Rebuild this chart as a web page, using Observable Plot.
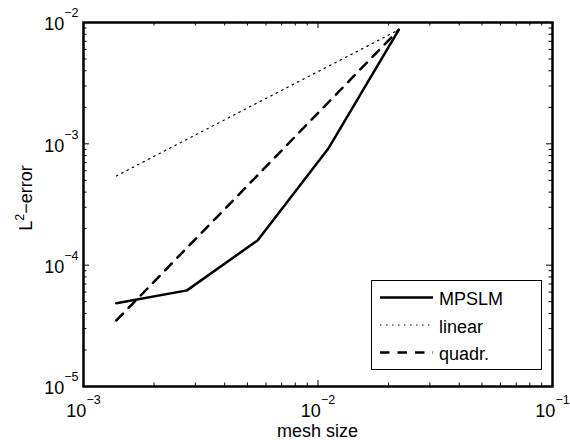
<!DOCTYPE html>
<html><head><meta charset="utf-8">
<script src="https://cdn.jsdelivr.net/npm/d3@7"></script>
<script src="https://cdn.jsdelivr.net/npm/@observablehq/plot@0.6"></script>
<style>
html,body{margin:0;padding:0;background:#fff;}
#chart svg{display:block;}
</style></head><body><div id="chart"></div>
<script>
// ---- data ----
const meshSize = [0.001381, 0.002762, 0.005524, 0.011049, 0.022097];
const mpslm    = [4.85e-5, 6.2e-5, 1.6e-4, 9.1e-4, 8.7e-3];
const linear   = [5.44e-4, 1.09e-3, 2.18e-3, 4.35e-3, 8.7e-3];
const quadr    = [3.5e-5, 1.39e-4, 5.5e-4, 2.19e-3, 8.7e-3];
const seriesNames = ["MPSLM", "linear", "quadr."];
const xTickValues = [1e-3, 1e-2, 1e-1];
const xTickLabels = ["10^−3", "10^−2", "10^−1"];
const yTickValues = [1e-5, 1e-4, 1e-3, 1e-2];
const yTickLabels = ["10^−5", "10^−4", "10^−3", "10^−2"];
const xMinor = [2e-3,3e-3,4e-3,5e-3,6e-3,7e-3,8e-3,9e-3,2e-2,3e-2,4e-2,5e-2,6e-2,7e-2,8e-2,9e-2];
const yMinor = [2e-5,3e-5,4e-5,5e-5,6e-5,7e-5,8e-5,9e-5,2e-4,3e-4,4e-4,5e-4,6e-4,7e-4,8e-4,9e-4,2e-3,3e-3,4e-3,5e-3,6e-3,7e-3,8e-3,9e-3];
const xLabel = "mesh size";

const toRows = vals => meshSize.map((h, i) => ({h, v: vals[i]}));
const mpslmData = toRows(mpslm), linearData = toRows(linear), quadrData = toRows(quadr);

const W = 570, H = 440, mL = 83, mR = 18, mT = 22, mB = 54;
const pw = W - mL - mR, ph = H - mT - mB;
const FONT = "'Liberation Sans', Arial, Helvetica, sans-serif";
const fmtX = d => xTickLabels[xTickValues.indexOf(d)];
const fmtY = d => yTickLabels[yTickValues.indexOf(d)];
const minorLen = 3.5, majorLen = 6;

const plot = Plot.plot({
  width: W, height: H,
  marginLeft: mL, marginRight: mR, marginTop: mT, marginBottom: mB,
  style: {fontFamily: FONT, background: "white", color: "black", overflow: "visible"},
  x: {type: "log", domain: [1e-3, 1e-1]},
  y: {type: "log", domain: [1e-5, 1e-2]},
  marks: [
    // inward ticks, all four sides
    Plot.ruleX(xMinor, {x: d => d, insetTop: ph - minorLen, stroke: "black", strokeWidth: 1}),
    Plot.ruleX(xMinor, {x: d => d, insetBottom: ph - minorLen, stroke: "black", strokeWidth: 1}),
    Plot.ruleX(xTickValues, {x: d => d, insetTop: ph - majorLen, stroke: "black", strokeWidth: 1}),
    Plot.ruleX(xTickValues, {x: d => d, insetBottom: ph - majorLen, stroke: "black", strokeWidth: 1}),
    Plot.ruleY(yMinor, {y: d => d, insetRight: pw - minorLen, stroke: "black", strokeWidth: 1}),
    Plot.ruleY(yMinor, {y: d => d, insetLeft: pw - minorLen, stroke: "black", strokeWidth: 1}),
    Plot.ruleY(yTickValues, {y: d => d, insetRight: pw - majorLen, stroke: "black", strokeWidth: 1}),
    Plot.ruleY(yTickValues, {y: d => d, insetLeft: pw - majorLen, stroke: "black", strokeWidth: 1}),
    // series
    Plot.line(linearData, {x: "h", y: "v", stroke: "black", strokeWidth: 1.2, strokeDasharray: "1.5,4.5"}),
    Plot.line(quadrData, {x: "h", y: "v", stroke: "black", strokeWidth: 2.5, strokeDasharray: "9.5,8"}),
    Plot.line(mpslmData, {x: "h", y: "v", stroke: "black", strokeWidth: 2.5}),
    Plot.frame({stroke: "black", strokeWidth: 2.5}),
    Plot.axisX({ticks: xTickValues, tickSize: 0, tickPadding: 18, tickFormat: fmtX, fontSize: 18, label: null}),
    Plot.axisY({ticks: yTickValues, tickSize: 0, tickPadding: 5, tickFormat: fmtY, fontSize: 18, label: null, dy: 2})
  ]
});

const svg = d3.select(plot);
// superscripts in tick labels
svg.selectAll("text").each(function () {
  const t = this.textContent;
  const m = /^10\^(.+)$/.exec(t);
  if (!m) return;
  const s = d3.select(this);
  s.text(null);
  s.append("tspan").text("10");
  s.append("tspan").attr("dy", -13).attr("font-size", 12.5).text(m[1]);
});

// axis labels
svg.append("text")
  .attr("x", (mL + W - mR) / 2).attr("y", 437)
  .attr("text-anchor", "middle").attr("font-size", 18).attr("font-family", FONT)
  .text(xLabel);
const yl = svg.append("text")
  .attr("transform", "translate(32,198) rotate(-90)")
  .attr("text-anchor", "middle").attr("font-size", 18).attr("font-family", FONT);
yl.append("tspan").text("L");
yl.append("tspan").attr("dy", -8).attr("font-size", 12.5).text("2");
yl.append("tspan").attr("dy", 8).text("−error");

// legend
const lg = svg.append("g").attr("font-family", FONT).attr("font-size", 18).attr("text-anchor", "start");
lg.append("rect").attr("x", 371.5).attr("y", 280.5).attr("width", 170).attr("height", 89)
  .attr("fill", "white").attr("stroke", "black").attr("stroke-width", 1);
const styles = [
  {w: 2.5, dash: null},
  {w: 1.2, dash: "1.5,4.5"},
  {w: 2.5, dash: "9.5,8"}
];
const baselines = [305, 332.5, 360];
seriesNames.forEach((name, i) => {
  const yb = baselines[i];
  const ly = yb - 7.5;
  const ln = lg.append("line").attr("x1", 380).attr("x2", 433).attr("y1", ly).attr("y2", ly)
    .attr("stroke", "black").attr("stroke-width", styles[i].w);
  if (styles[i].dash) ln.attr("stroke-dasharray", styles[i].dash);
  lg.append("text").attr("x", 439).attr("y", yb).attr("text-anchor", "start").text(name);
});

document.getElementById("chart").appendChild(plot);
</script>
</body></html>
